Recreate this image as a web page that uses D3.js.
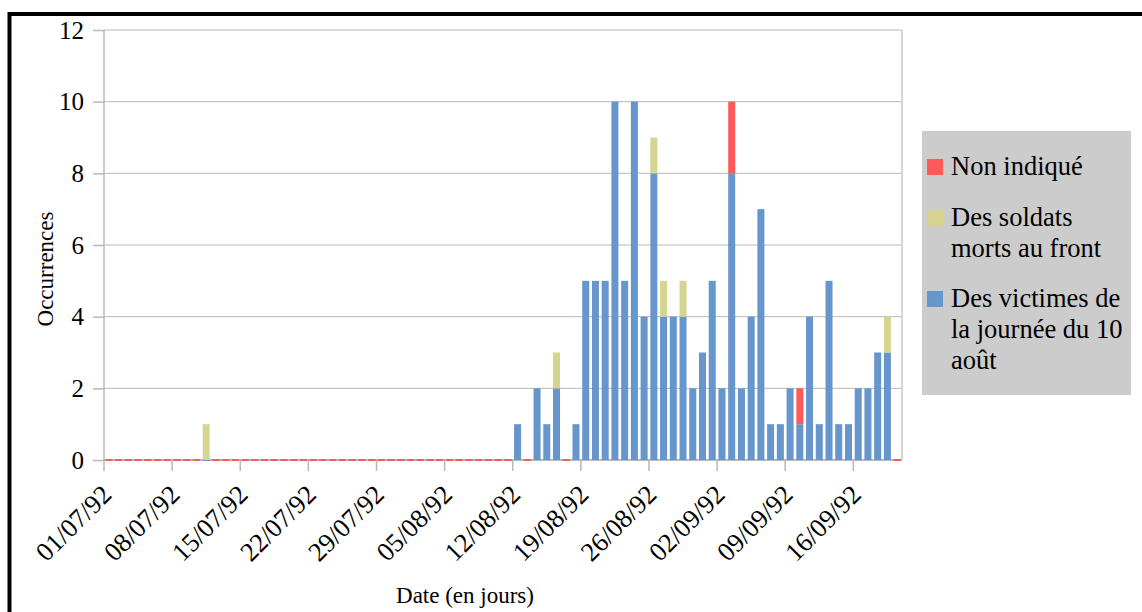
<!DOCTYPE html>
<html>
<head>
<meta charset="utf-8">
<script src="https://cdn.jsdelivr.net/npm/d3@7"></script>
<style>
  html, body { margin: 0; padding: 0; background: #fff; }
  svg { display: block; }
  text { font-family: "Liberation Serif", "Times New Roman", serif; fill: #000; }
</style>
</head>
<body>
<svg id="chart" width="1142" height="612"></svg>
<script>
// ---- Data ----
const startDate = new Date(1992, 6, 1);
const endDate = new Date(1992, 8, 21);            // exclusive: last category 20/09/92
const dates = d3.timeDay.range(startDate, endDate); // 82 daily categories

// "Des victimes de la journée du 10 août"
const victimes = [
  0,0,0,0,0,0,0,
  0,0,0,0,0,0,0,
  0,0,0,0,0,0,0,
  0,0,0,0,0,0,0,
  0,0,0,0,0,0,0,
  0,0,0,0,0,0,0,
  1,0,2,1,2,0,1,
  5,5,5,10,5,10,4,
  8,4,4,4,2,3,5,
  2,8,2,4,7,1,1,
  2,1,4,1,5,1,1,
  2,2,3,3,0
];
// "Des soldats morts au front"
const soldats = [
  null,null,null,null,null,null,null,
  null,null,null,1,null,null,null,
  null,null,null,null,null,null,null,
  null,null,null,null,null,null,null,
  null,null,null,null,null,null,null,
  null,null,null,null,null,null,null,
  null,null,null,null,1,null,null,
  null,null,null,null,null,null,null,
  1,1,null,1,null,null,null,
  null,null,null,null,null,null,null,
  null,null,null,null,null,null,null,
  null,null,null,1,null
];
// "Non indiqué"
const nonIndique = [
  0,0,0,0,0,0,0,
  0,0,0,null,0,0,0,
  0,0,0,0,0,0,0,
  0,0,0,0,0,0,0,
  0,0,0,0,0,0,0,
  0,0,0,0,0,0,0,
  null,0,null,null,null,0,null,
  null,null,null,null,null,null,null,
  null,null,null,null,null,null,null,
  null,2,null,null,null,null,null,
  null,1,null,null,null,null,null,
  null,null,null,null,0
];

const legendLines = [["Non indiqué"], ["Des soldats", "morts au front"], ["Des victimes de", "la journée du 10", "août"]];
const yTicks = [0, 2, 4, 6, 8, 10, 12];
const yTitle = "Occurrences";
const xTitle = "Date (en jours)";

const colors = { victimes: "#6696cc", soldats: "#d6d590", nonIndique: "#fe5a5a" };

// ---- Layout ----
const svg = d3.select("#chart");
const pLeft = 104, pRight = 902, pTop = 30, pBottom = 460;
const fmt = d3.timeFormat("%d/%m/%y");

const x = d3.scaleBand().domain(dates).range([pLeft, pRight]).paddingInner(0.28).paddingOuter(0.14);
const y = d3.scaleLinear().domain([0, 12]).range([pBottom, pTop]);

// outer frame
svg.append("rect").attr("x", 9.5).attr("y", 14).attr("width", 1300).attr("height", 800)
  .attr("fill", "none").attr("stroke", "#000").attr("stroke-width", 4);

// gridlines
svg.append("g").selectAll("line").data(yTicks.filter(d => d > 0)).join("line")
  .attr("x1", pLeft).attr("x2", pRight).attr("y1", d => y(d)).attr("y2", d => y(d))
  .attr("stroke", "#b8b8b8").attr("stroke-width", 1);

// plot right border
svg.append("line").attr("x1", pRight).attr("x2", pRight).attr("y1", pTop).attr("y2", pBottom)
  .attr("stroke", "#d4d4d4").attr("stroke-width", 2);

// y axis
const yAxis = d3.axisLeft(y).tickValues(yTicks).tickSize(11).tickPadding(9).tickFormat(d3.format("d"));
const gy = svg.append("g").attr("transform", `translate(${pLeft},0)`).call(yAxis);
gy.select(".domain").attr("stroke", "#b8b8b8").attr("stroke-width", 1.5).attr("d", `M0,${pTop}V${pBottom}`);
gy.selectAll(".tick line").attr("stroke", "#b8b8b8").attr("stroke-width", 1.5);
gy.selectAll(".tick text").attr("font-size", 25).attr("font-family", "Liberation Serif").attr("fill", "#000");

// x axis (ticks every 7 days at category boundaries)
const half = (x.step() - x.bandwidth()) / 2;
const tickDates = dates.filter((d, i) => i % 7 === 0);
const gx = svg.append("g");
gx.selectAll("line.tick").data(tickDates).join("line")
  .attr("x1", d => x(d) - half).attr("x2", d => x(d) - half)
  .attr("y1", pBottom).attr("y2", pBottom + 11)
  .attr("stroke", "#b8b8b8").attr("stroke-width", 1.5);
gx.append("line").attr("x1", pLeft).attr("x2", pRight).attr("y1", pBottom).attr("y2", pBottom)
  .attr("stroke", "#b8b8b8").attr("stroke-width", 2);
gx.selectAll("text").data(tickDates).join("text")
  .attr("transform", d => `translate(${x(d) - half + 3},${pBottom + 30}) rotate(-45)`)
  .attr("text-anchor", "end").attr("dy", "0.33em")
  .attr("font-size", 26.5).text(d => fmt(d));

// stacked bars
const stackData = dates.map((d, i) => {
  const b = victimes[i], s = soldats[i], r = nonIndique[i];
  const b0 = 0, b1 = b0 + (b || 0);
  const s0 = b1, s1 = s0 + (s || 0);
  const r0 = s1, r1 = r0 + (r || 0);
  return [
    { date: d, v: b, y0: b0, y1: b1, c: colors.victimes },
    { date: d, v: s, y0: s0, y1: s1, c: colors.soldats },
    { date: d, v: r, y0: r0, y1: r1, c: colors.nonIndique }
  ];
});
[0, 1, 2].forEach(k => {
  svg.append("g").selectAll("rect")
    .data(stackData.map(s => s[k]).filter(p => p.v !== null))
    .join("rect")
    .attr("x", p => x(p.date))
    .attr("width", x.bandwidth())
    .attr("y", p => p.v === 0 ? y(p.y0) - 1 : y(p.y1))
    .attr("height", p => p.v === 0 ? 2 : y(p.y0) - y(p.y1))
    .attr("fill", p => p.c);
});

// axis titles
svg.append("text").attr("transform", `translate(53,269) rotate(-90)`)
  .attr("text-anchor", "middle").attr("font-size", 23).text(yTitle);
svg.append("text").attr("x", 465).attr("y", 603)
  .attr("text-anchor", "middle").attr("font-size", 23).text(xTitle);

// legend
const lg = svg.append("g");
lg.append("rect").attr("x", 922).attr("y", 131).attr("width", 209).attr("height", 264).attr("fill", "#cccccc");
const legendItems = [
  { lines: legendLines[0], color: colors.nonIndique, y0: 175 },
  { lines: legendLines[1], color: colors.soldats, y0: 226 },
  { lines: legendLines[2], color: colors.victimes, y0: 307 }
];
legendItems.forEach(it => {
  lg.append("rect").attr("x", 927).attr("y", it.y0 - 16).attr("width", 16).attr("height", 16).attr("fill", it.color);
  const t = lg.append("text").attr("x", 951).attr("y", it.y0).attr("font-size", 26.5);
  it.lines.forEach((ln, j) => t.append("tspan").attr("x", 951).attr("dy", j === 0 ? 0 : 31).text(ln));
});
</script>
</body>
</html>
